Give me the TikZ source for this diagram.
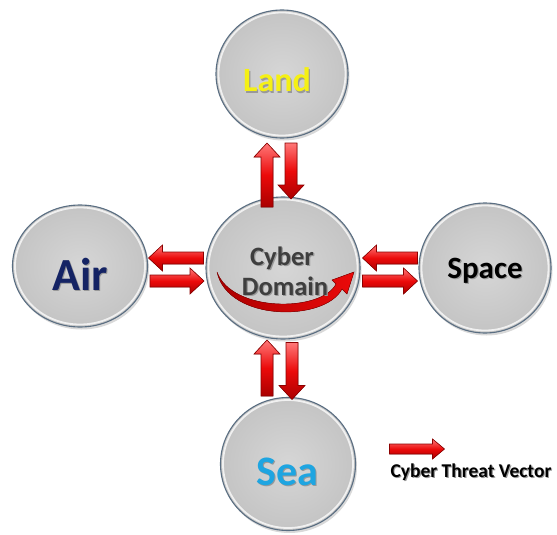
\documentclass[tikz,border=0pt]{standalone}
\usepackage{fontspec}
\setmainfont{Carlito}
\usetikzlibrary{shapes.geometric,shadows}
\definecolor{ballin}{RGB}{214,214,214}
\definecolor{ballout}{RGB}{196,196,196}
\definecolor{ballrim}{RGB}{90,110,130}
\definecolor{arrred}{RGB}{235,10,10}
\definecolor{arrlight}{RGB}{255,120,120}
\definecolor{arrdark}{RGB}{170,0,0}
\definecolor{arredge}{RGB}{140,0,0}
\definecolor{landc}{RGB}{245,240,20}
\definecolor{airc}{RGB}{20,35,100}
\definecolor{seac}{RGB}{30,165,225}
\definecolor{cyberc}{RGB}{62,62,62}
\newcommand\shtxt[2]{\makebox[0pt][l]{\hspace{1.2pt}\raisebox{-1.2pt}{\textcolor{black!40}{#2}}}\textcolor{#1}{#2}}
\begin{document}
\begin{tikzpicture}[x=1pt,y=-1pt,
  ball/.style={ellipse, draw=ballrim, line width=1.1pt, inner color=ballin, outer color=ballout,
    inner sep=0pt, drop shadow={opacity=0.3, shadow xshift=1.5pt, shadow yshift=-2.5pt}},
  bevel/.style={draw=white, opacity=0.75, line width=1.8pt},
  arrfill/.style={draw=arredge, line width=0.6pt, top color=arrlight, bottom color=arrdark,
    middle color=arrred},
  barrow/.pic={\filldraw[arrfill] ({-#1/2},-6) -- ({#1/2-14},-6) -- ({#1/2-14},-13) -- ({#1/2},0)
     -- ({#1/2-14},13) -- ({#1/2-14},6) -- ({-#1/2},6) -- cycle;},
  smallarrow/.pic={\filldraw[arrfill] ({-#1/2},-5) -- ({#1/2-12},-5) -- ({#1/2-12},-10) -- ({#1/2},0)
     -- ({#1/2-12},10) -- ({#1/2-12},5) -- ({-#1/2},5) -- cycle;},
  lab/.style={anchor=base, inner sep=0pt}]
\useasboundingbox (0,0) rectangle (557,535);
% domains
\node[ball, minimum width=132pt, minimum height=128pt] (land) at (282,74) {};
\node[ball, minimum width=154pt, minimum height=142pt] (cyber) at (283,268) {};
\node[ball, minimum width=135pt, minimum height=122pt] (air) at (80,266) {};
\node[ball, minimum width=132pt, minimum height=130pt] (space) at (485,268) {};
\node[ball, minimum width=135pt, minimum height=133pt] (sea) at (288,464) {};
\draw[bevel] (land.center) ellipse [x radius=63.5, y radius=61.5];
\draw[bevel] (cyber.center) ellipse [x radius=74.5, y radius=68.5];
\draw[bevel] (air.center) ellipse [x radius=65, y radius=58.5];
\draw[bevel] (space.center) ellipse [x radius=63.5, y radius=62.5];
\draw[bevel] (sea.center) ellipse [x radius=65, y radius=64];
% threat vectors
\pic[rotate=90] (tu) at (267,175) {barrow=64};
\pic[rotate=-90] (td) at (291,171) {barrow=56};
\pic[rotate=180] (lu) at (176,258) {barrow=55};
\pic (ld) at (177,281) {barrow=54};
\pic[rotate=180] (ru) at (390,258) {barrow=55};
\pic (rd) at (390,281) {barrow=55};
\pic[rotate=90] (bu) at (267,368) {barrow=56};
\pic[rotate=-90] (bd) at (292,371) {barrow=57};
% curved arrow in cyber domain
\filldraw[draw=arredge, line width=0.4pt, left color=arrdark, right color=arrred]
  (217,272) .. controls (228,322) and (325,322) .. (342,289)
  -- (347,294) -- (354,272) -- (332,280) -- (336,284)
  .. controls (322,312) and (232,313) .. (217,272) -- cycle;
% labels
\node[lab, font=\bfseries\fontsize{34}{38}\selectfont] (landt) at (277,92) {\shtxt{landc}{Land}};
\node[lab, font=\bfseries\fontsize{46}{50}\selectfont] (airt) at (80,290) {\shtxt{airc}{Air}};
\node[lab, font=\bfseries\fontsize{31}{34}\selectfont] (spacet) at (485,278) {\shtxt{black}{Space}};
\node[lab, font=\bfseries\fontsize{42}{46}\selectfont] (seat) at (287,485) {\shtxt{seac}{Sea}};
\node[lab, font=\bfseries\fontsize{26.5}{30}\selectfont] (cybert) at (282,265) {\shtxt{cyberc}{Cyber}};
\node[lab, font=\bfseries\fontsize{26.5}{30}\selectfont] (domaint) at (285,295) {\shtxt{cyberc}{Domain}};
% legend
\pic (leg) at (417,449) {smallarrow=55};
\node[lab, font=\bfseries\fontsize{19.5}{22}\selectfont] (legt) at (471,477) {\shtxt{black}{Cyber Threat Vector}};
\end{tikzpicture}
\end{document}
